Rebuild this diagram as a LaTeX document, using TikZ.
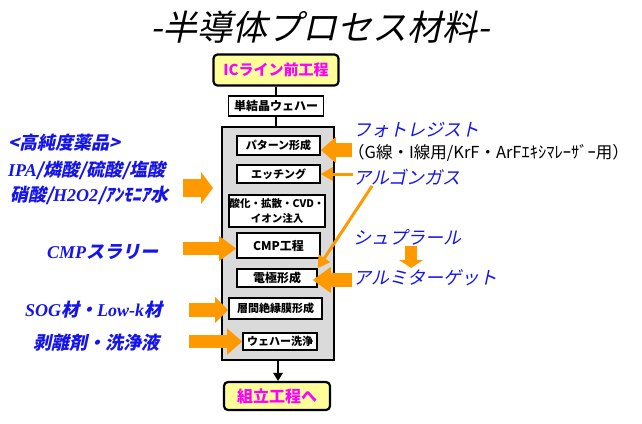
\documentclass[tikz,border=0pt]{standalone}
\usepackage{fontspec}
\setmainfont{Noto Sans CJK JP}
\newfontfamily\jpit[FakeSlant=0.22]{Noto Sans CJK JP}
\newfontfamily\latbi{Liberation Serif}
\usetikzlibrary{arrows.meta}
\definecolor{chemblue}{RGB}{20,20,235}
\definecolor{feedorange}{RGB}{255,153,0}
\definecolor{lineyellow}{RGB}{255,255,153}
\definecolor{linemagenta}{RGB}{255,0,255}
\definecolor{bggray}{RGB}{218,218,218}
\tikzset{>=Stealth,
bar/.style={draw, line width=2.2pt, rounded corners=4pt, fill=lineyellow,
  text=linemagenta, font=\bfseries\fontsize{15}{17}\selectfont, inner sep=0pt},
stepbox/.style={draw, line width=1.6pt, fill=white, inner sep=0pt,
  align=center, font=\bfseries\fontsize{11}{14}\selectfont},
chem/.style={anchor=west, inner sep=0pt, text=chemblue,
  font=\jpit\bfseries\fontsize{18}{20}\selectfont},
mat/.style={anchor=west, inner sep=0pt, text=chemblue,
  font=\jpit\fontsize{18}{20}\selectfont},
feed/.style args={#1/#2/#3}{draw=feedorange, line width=#1,
  -{Triangle[length=#2, width=#3, line width=0pt]}}
}
\newcommand{\lat}[1]{{\latbi\itshape #1}}

\begin{document}
\begin{tikzpicture}[x=1pt,y=-1pt]
\useasboundingbox (0,0) rectangle (642,423);
\node (ttl) at (320,27) {\jpit\fontsize{35}{38}\selectfont -半導体プロセス材料-};

% process line
\node[bar, minimum width=125pt, minimum height=31pt] (ic) at (276,70) {ICライン前工程};
\node[stepbox, minimum width=95pt, minimum height=20pt,
  font=\bfseries\fontsize{12}{14}\selectfont] (wf) at (276,106) {単結晶ウェハー};
\node[draw, line width=1.6pt, fill=bggray, minimum width=112pt,
  minimum height=233pt] (ln) at (278,243.5) {};
\node[stepbox, minimum width=83pt, minimum height=19pt] (pat) at (278.5,145.5) {パターン形成};
\node[stepbox, minimum width=83pt, minimum height=18pt] (etch) at (278.5,174) {エッチング};
\node[stepbox, minimum width=96pt, minimum height=32pt,
  font=\bfseries\fontsize{10.5}{15}\selectfont] (oxi) at (277,211) {酸化・拡散・CVD・\\イオン注入};
\node[stepbox, minimum width=83pt, minimum height=25pt,
  font=\bfseries\fontsize{12}{14}\selectfont] (cmp) at (278.5,245.5) {CMP工程};
\node[stepbox, minimum width=80pt, minimum height=18pt,
  font=\bfseries\fontsize{12}{14}\selectfont] (elec) at (277,278) {電極形成};
\node[stepbox, minimum width=93pt, minimum height=21pt] (ild) at (275.5,308.5) {層間絶縁膜形成};
\node[stepbox, minimum width=74pt, minimum height=17pt] (cln) at (280,341.5) {ウェハー洗浄};
\node[bar, minimum width=106pt, minimum height=28pt,
  font=\bfseries\fontsize{16}{18}\selectfont] (asm) at (277,396) {組立工程へ};

\draw[line width=1.5pt] (ic) -- (wf) (wf.south) -- (wf.south |- ln.north);
\draw[line width=2pt, -{Triangle[length=8pt, width=10pt, line width=0pt]}]
  (ln.south) -- (ln.south |- asm.north);

% materials, left
\node[chem] (hp) at (8,143) {<高純度薬品>};
\node[chem] (c1) at (8,170) {\lat{IPA}/燐酸/硫酸/塩酸};
\node[chem] (c2) at (10,195) {硝酸/\lat{H2O2}/ｱﾝﾓﾆｱ水};
\node[chem] (cs) at (47,252) {\lat{CMP}スラリー};
\node[chem] (sog) at (25,310) {\lat{SOG}材・\lat{Low-k}材};
\node[chem] (rm) at (33,343) {剥離剤・洗浄液};

% materials, right
\node[mat] (pr) at (353,130) {フォトレジスト};
\node[anchor=west, inner sep=0pt, font=\fontsize{16.5}{18}\selectfont] (prn)
  at (348,153) {（G線・I線用/KrF・ArFｴｷｼﾏﾚｰｻﾞｰ用）};
\node[mat] (ar) at (353,177) {アルゴンガス};
\node[mat] (sp) at (353,237) {シュプラール};
\node[mat] (al) at (353,278) {アルミターゲット};

% feeds
\coordinate (hpT) at (183,188);
\coordinate (hpH) at (213,188);
\coordinate (csT) at (183,248.5);
\coordinate (sogT) at (189,310);
\coordinate (rmT) at (189,341.5);
\coordinate (prT) at (352,150);
\coordinate (arT) at (353,174);
\coordinate (arD) at (372,186);
\coordinate (alT) at (352,280);
\coordinate (spT) at (411,246);
\coordinate (spH) at (411,268);
\draw[feed={18pt/12pt/32pt}] (hpT) -- (hpH);
\draw[feed={13pt/17pt/25pt}] (csT) -- (csT -| cmp.west);
\draw[feed={14pt/13pt/26pt}] (sogT) -- (sogT -| ild.west);
\draw[feed={13pt/15pt/26pt}] (rmT) -- (rmT -| cln.west);
\draw[feed={14pt/15pt/26pt}] (prT) -- (prT -| pat.east);
\draw[feed={3pt/12pt/14pt}] (arT) -- (arT -| etch.east);
\draw[feed={3pt/12pt/14pt}] (arD) -- (elec.north east);
\draw[feed={14pt/18pt/26pt}] (alT) -- ([xshift=-5pt]alT -| elec.east);
\draw[feed={12pt/8pt/24pt}] (spT) -- (spH);
\end{tikzpicture}
\end{document}
